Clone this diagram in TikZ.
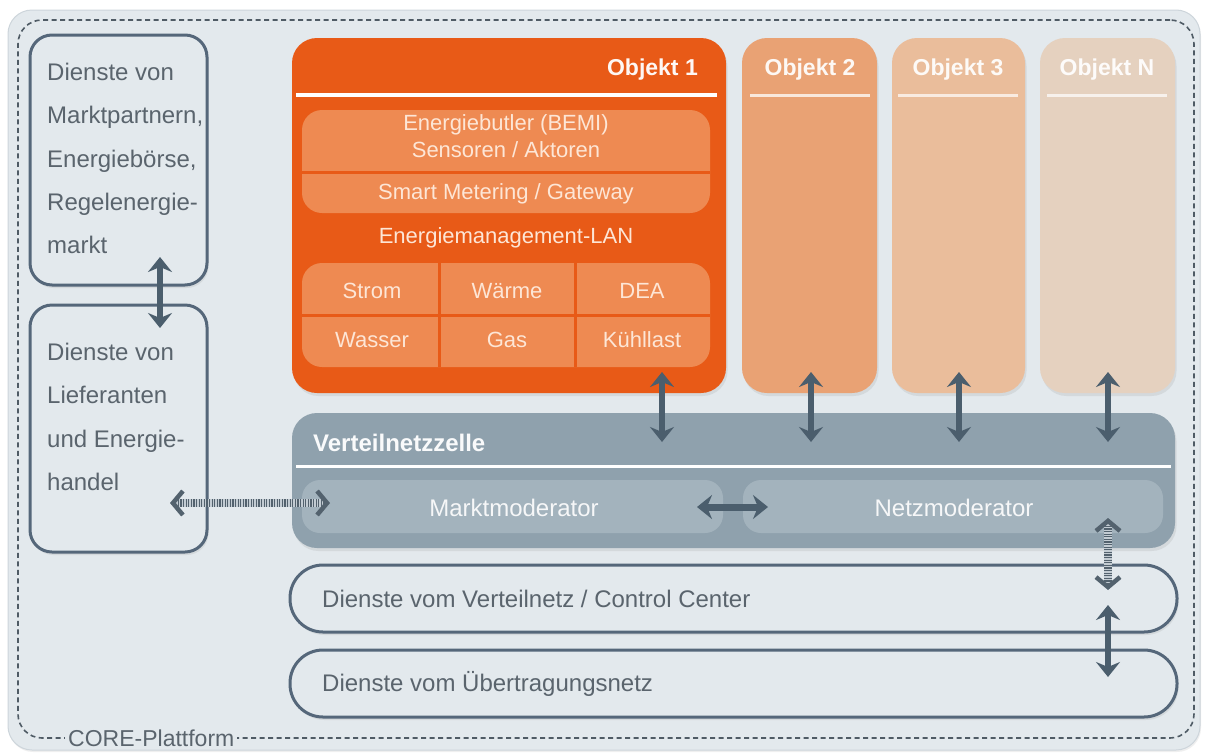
\documentclass[tikz,border=0pt]{standalone}
\usepackage{fontspec}
\setmainfont{Liberation Sans}
\usetikzlibrary{arrows.meta,shadows}
\definecolor{bg}{HTML}{E3E9ED}
\definecolor{bgedge}{HTML}{CDD5DB}
\definecolor{dashc}{HTML}{4F5B65}
\definecolor{oone}{HTML}{E85A17}
\definecolor{oband}{HTML}{EE8A52}
\definecolor{otext}{HTML}{FDE6D6}
\definecolor{otwo}{HTML}{E9A274}
\definecolor{othree}{HTML}{EABD9B}
\definecolor{oN}{HTML}{E5D1BF}
\definecolor{vnz}{HTML}{8FA1AD}
\definecolor{vnzin}{HTML}{A3B3BD}
\definecolor{arrowc}{HTML}{4B5E6D}
\definecolor{boxline}{HTML}{55677A}
\definecolor{txt}{HTML}{5A646D}
\definecolor{hatchlight}{HTML}{C3CCD3}
\definecolor{hatchdark}{HTML}{53626E}
\newcommand\myfs[1]{\fontsize{#1}{#1}\selectfont}
\tikzset{
  corner/.style={anchor=north west, inner sep=0pt, outer sep=0pt},
  sbox/.style={corner, rounded corners=22pt, draw=boxline, line width=3pt, fill=bg,
     drop shadow={shadow xshift=1.5pt, shadow yshift=-3pt, opacity=0.15}},
  pill/.style={corner, rounded corners=33pt, draw=boxline, line width=3pt, fill=bg,
     drop shadow={shadow xshift=1.5pt, shadow yshift=-3pt, opacity=0.15}},
  objbox/.style={corner, rounded corners=25pt,
     drop shadow={shadow xshift=1.5pt, shadow yshift=-3pt, opacity=0.15}},
  band/.style={corner, rounded corners=20pt, fill=oband},
  inbox/.style={corner, rounded corners=18pt, fill=vnzin},
  ltxt/.style={anchor=north west, inner sep=0pt, align=left, text=txt,
     font=\fontsize{24pt}{43.4pt}\selectfont},
  otxt/.style={inner sep=0pt, text=otext, font=\myfs{22pt}},
  head/.style={inner sep=0pt, text=white, font=\bfseries\myfs{23pt}},
  hline/.style={line width=3pt},
  biarrow/.style={draw=arrowc, line width=6pt, <->, >={Stealth[length=15pt,width=24pt,inset=5pt]}},
  hatchbg/.style={draw=hatchlight, line width=8pt},
  hatch/.style={draw=hatchdark, line width=8pt, dash pattern=on 1.2pt off 1.4pt, <->,
     >={Straight Barb[length=10pt,width=24pt,line width=4.5pt]}}
}
\begin{document}
\begin{tikzpicture}[x=1pt,y=-1pt]
\useasboundingbox (0,0) rectangle (1206,755);
\fill[white] (0,0) rectangle (1206,755);
% platform
\node[corner, rounded corners=24pt, fill=bg, draw=bgedge, line width=1pt,
  minimum width=1192pt, minimum height=740pt,
  drop shadow={shadow xshift=1pt, shadow yshift=-2pt, opacity=0.12}] (plat) at (8,10) {};
\node[corner, rounded corners=24pt, draw=dashc, line width=1.6pt, dash pattern=on 5pt off 3.5pt,
  minimum width=1176pt, minimum height=718pt] (core) at (18,20) {};
\node[anchor=west, fill=bg, inner sep=3pt, text=txt, font=\myfs{23pt}] (corelbl) at (65,738) {CORE-Plattform};

% left boxes
\node[sbox, minimum width=177pt, minimum height=250pt] (mp) at (30,35) {};
\node[ltxt] (mptxt) at (47,62.8) {Dienste von\\Marktpartnern,\\Energiebörse,\\Regelenergie-\\markt};
\node[sbox, minimum width=177pt, minimum height=247pt] (lf) at (30,305) {};
\node[ltxt] (lftxt) at (47,342.8) {Dienste von\\Lieferanten\\und Energie-\\handel};

% Objekt 1
\node[objbox, fill=oone, minimum width=434pt, minimum height=355pt] (o1) at (292,38) {};
\node[head, anchor=east, text=white!95!oone] (o1h) at (698,70) {Objekt 1};
\draw[hline, white, line width=3.5pt] (296,95) -- (717,95);
\node[band, minimum width=408pt, minimum height=103pt] (bemi) at (302,110) {};
\draw[oone, line width=3pt] (302,172) -- (710,172);
\node[otxt] (bemit) at (506,125) {Energiebutler (BEMI)};
\node[otxt] (sens) at (506,150) {Sensoren / Aktoren};
\node[otxt] (smart) at (506,194) {Smart Metering / Gateway};
\node[otxt] (lan) at (506,238) {Energiemanagement-LAN};
\node[band, minimum width=408pt, minimum height=104pt] (grid) at (302,263) {};
\draw[oone, line width=3pt] (302,315) -- (710,315);
\draw[oone, line width=3pt] (439,263) -- (439,367);
\draw[oone, line width=3pt] (575,263) -- (575,367);
\node[otxt] (strom) at (372,291) {Strom};
\node[otxt] (waerme) at (507,291) {Wärme};
\node[otxt] (dea) at (642,291) {DEA};
\node[otxt] (wasser) at (372,340) {Wasser};
\node[otxt] (gas) at (507,340) {Gas};
\node[otxt] (kuehl) at (642,340) {Kühllast};

% Objekt 2, 3, N
\node[objbox, fill=otwo, minimum width=135pt, minimum height=355pt] (o2) at (742,38) {};
\node[head, text=white!92!otwo] (o2h) at (810,70) {Objekt 2};
\draw[hline, white!75!otwo] (750,95) -- (870,95);
\node[objbox, fill=othree, minimum width=133pt, minimum height=355pt] (o3) at (892,38) {};
\node[head, text=white!92!othree] (o3h) at (958,70) {Objekt 3};
\draw[hline, white!70!othree] (898,95) -- (1018,95);
\node[objbox, fill=oN, minimum width=135pt, minimum height=355pt] (oN) at (1040,38) {};
\node[head, text=white!92!oN] (oNh) at (1107,70) {Objekt N};
\draw[hline, white!70!oN] (1047,95) -- (1167,95);

% Verteilnetzzelle
\node[objbox, fill=vnz, minimum width=883pt, minimum height=135pt] (vnz) at (292,413) {};
\node[head, anchor=west, text=white!95!vnz, font=\bfseries\myfs{24pt}] (vnzh) at (313,443) {Verteilnetzzelle};
\draw[hline, white] (296,466) -- (1171,466);
\node[inbox, minimum width=421pt, minimum height=53pt] (mm) at (302,480) {};
\node[inner sep=0pt, text=white!90!vnzin, font=\myfs{24pt}] (mmt) at (514,508) {Marktmoderator};
\node[inbox, minimum width=420pt, minimum height=53pt] (nm) at (743,480) {};
\node[inner sep=0pt, text=white!90!vnzin, font=\myfs{24pt}] (nmt) at (954,508) {Netzmoderator};

% bottom services
\node[pill, minimum width=887pt, minimum height=67pt] (vn) at (290,565) {};
\node[anchor=west, inner sep=0pt, text=txt, font=\myfs{24pt}] (vnt) at (322,599) {Dienste vom Verteilnetz / Control Center};
\node[pill, minimum width=887pt, minimum height=67pt] (un) at (290,650) {};
\node[anchor=west, inner sep=0pt, text=txt, font=\myfs{24pt}] (unt) at (322,684) {Dienste vom Übertragungsnetz};

% connector end points
\coordinate (a0s) at (160,257); \coordinate (a0e) at (160,328);
\coordinate (a1s) at (662,372); \coordinate (a1e) at (662,442);
\coordinate (a2s) at (811,372); \coordinate (a2e) at (811,442);
\coordinate (a3s) at (959,372); \coordinate (a3e) at (959,442);
\coordinate (a4s) at (1108,372); \coordinate (a4e) at (1108,442);
\coordinate (mns) at (697,507); \coordinate (mne) at (768,507);
\coordinate (hls) at (170,503); \coordinate (hle) at (330,503);
\coordinate (hvs) at (1108,518); \coordinate (hve) at (1108,590);
\coordinate (svs) at (1108,605); \coordinate (sve) at (1108,677);

% arrows
\draw[biarrow] (a0s) -- (a0e);
\draw[biarrow] (a1s) -- (a1e);
\draw[biarrow] (a2s) -- (a2e);
\draw[biarrow] (a3s) -- (a3e);
\draw[biarrow] (a4s) -- (a4e);
\draw[biarrow, line width=7pt] (mns) -- (mne);
\draw[biarrow] (svs) -- (sve);
\draw[hatchbg, shorten <=5pt, shorten >=5pt] (hls) -- (hle);
\draw[hatch] (hls) -- (hle);
\draw[hatchbg, shorten <=5pt, shorten >=5pt] (hvs) -- (hve);
\draw[hatch] (hvs) -- (hve);
\end{tikzpicture}
\end{document}
